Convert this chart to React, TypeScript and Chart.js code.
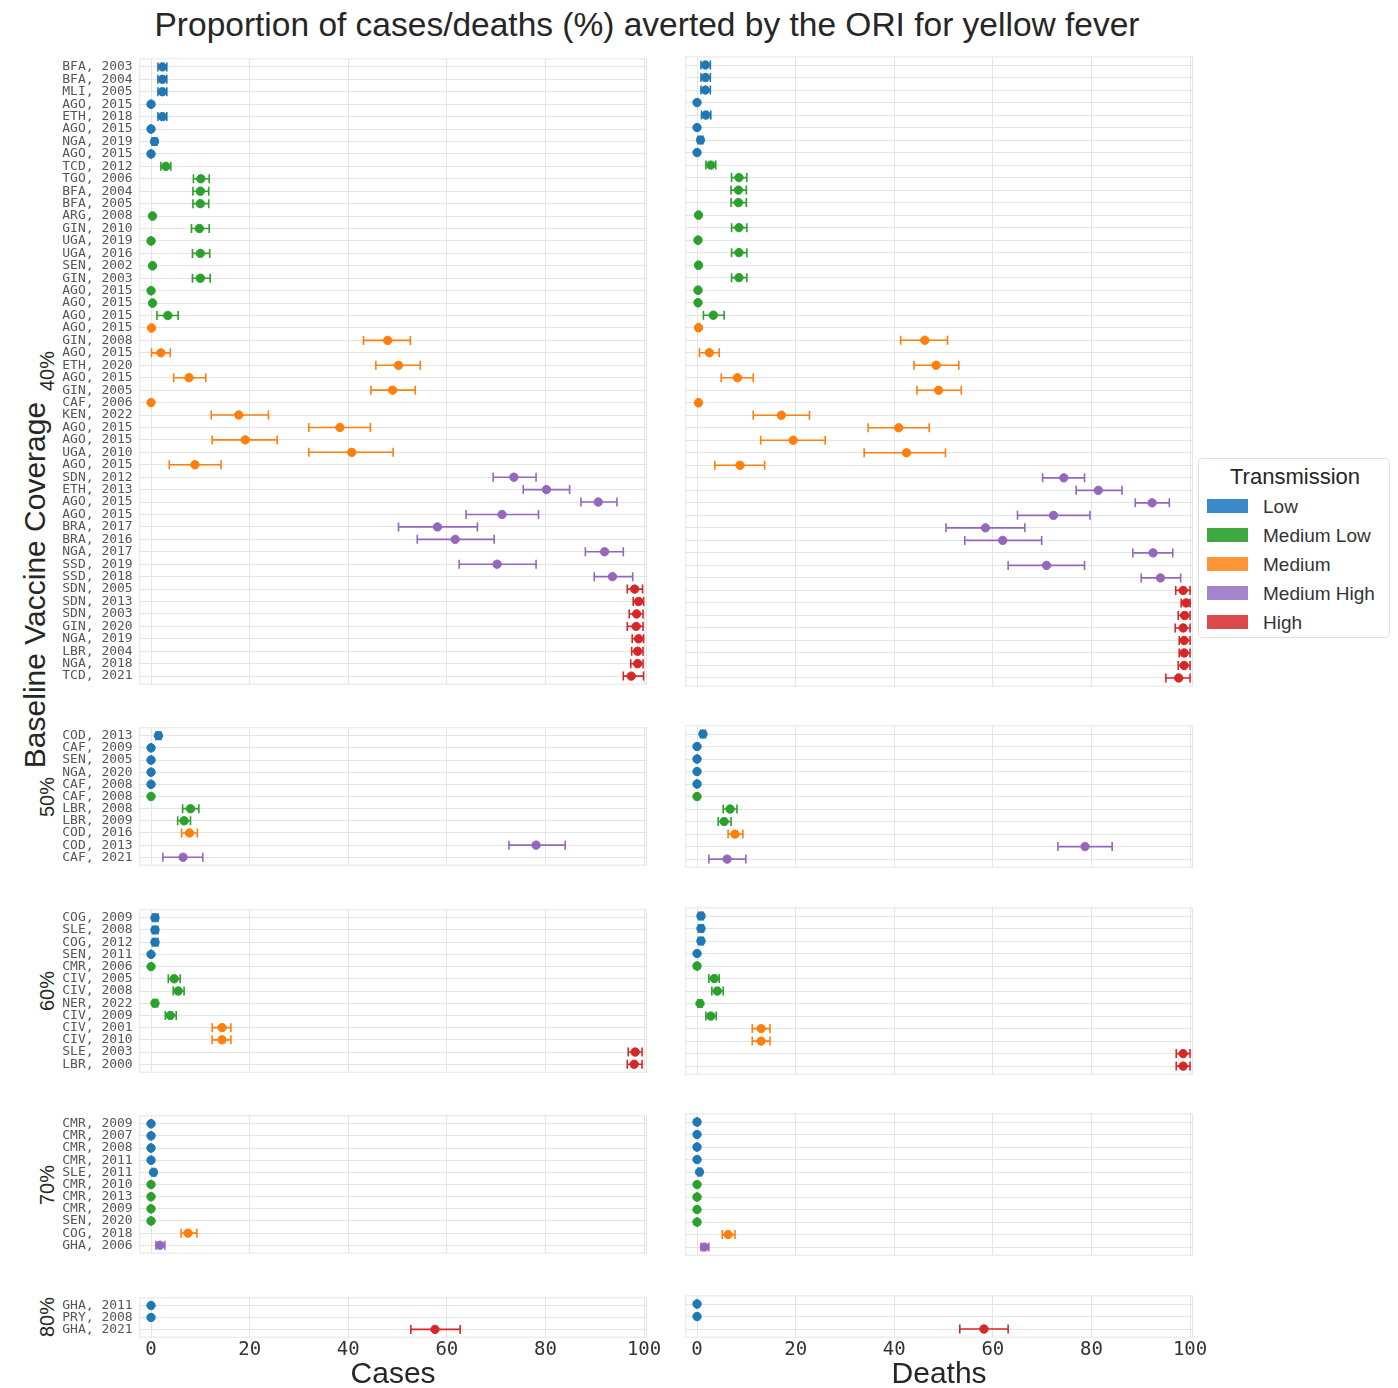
import React, { useEffect, useRef } from "react";
import { Chart, registerables } from "chart.js";
Chart.register(...registerables);

// ---------- categories ----------
const transmissionNames = ["Low", "Medium Low", "Medium", "Medium High", "High"];
const transmissionColors = ["#1f77b4", "#2ca02c", "#ff7f0e", "#9467bd", "#d62728"];
const legendColors = ["#3a89c9", "#3fa93f", "#ff9537", "#a484cc", "#de4a4b"];
const coverageLabels = ["40%", "50%", "60%", "70%", "80%"];
const xTickValues = [0, 20, 40, 60, 80, 100];

// ---------- 40% ----------
const labels40 = ["BFA, 2003", "BFA, 2004", "MLI, 2005", "AGO, 2015", "ETH, 2018", "AGO, 2015", "NGA, 2019", "AGO, 2015", "TCD, 2012", "TGO, 2006", "BFA, 2004", "BFA, 2005", "ARG, 2008", "GIN, 2010", "UGA, 2019", "UGA, 2016", "SEN, 2002", "GIN, 2003", "AGO, 2015", "AGO, 2015", "AGO, 2015", "AGO, 2015", "GIN, 2008", "AGO, 2015", "ETH, 2020", "AGO, 2015", "GIN, 2005", "CAF, 2006", "KEN, 2022", "AGO, 2015", "AGO, 2015", "UGA, 2010", "AGO, 2015", "SDN, 2012", "ETH, 2013", "AGO, 2015", "AGO, 2015", "BRA, 2017", "BRA, 2016", "NGA, 2017", "SSD, 2019", "SSD, 2018", "SDN, 2005", "SDN, 2013", "SDN, 2003", "GIN, 2020", "NGA, 2019", "LBR, 2004", "NGA, 2018", "TCD, 2021"];
const trans40 = [0, 0, 0, 0, 0, 0, 0, 0, 1, 1, 1, 1, 1, 1, 1, 1, 1, 1, 1, 1, 1, 2, 2, 2, 2, 2, 2, 2, 2, 2, 2, 2, 2, 3, 3, 3, 3, 3, 3, 3, 3, 3, 4, 4, 4, 4, 4, 4, 4, 4];
const cases40 = [2.3, 2.3, 2.3, 0, 2.3, 0, 0.7, 0, 3.0, 10.1, 10.0, 10.0, 0.3, 9.8, 0, 10.0, 0.3, 10.0, 0, 0.3, 3.4, 0.1, 48.0, 2.0, 50.2, 7.7, 49.0, 0, 17.8, 38.3, 19.1, 40.7, 8.9, 73.6, 80.2, 90.7, 71.2, 58.1, 61.7, 92.0, 70.2, 93.6, 98.1, 98.9, 98.5, 98.4, 98.9, 98.7, 98.7, 97.4];
const casesLo40 = [1.4, 1.4, 1.4, 0, 1.4, 0, 0.2, 0, 2.0, 8.6, 8.5, 8.5, 0.1, 8.2, 0, 8.4, 0.1, 8.4, 0, 0.1, 1.2, 0, 43.1, 0.1, 45.6, 4.6, 44.6, 0, 12.2, 32.0, 12.4, 32.0, 3.7, 69.4, 75.5, 87.2, 63.9, 50.2, 54.0, 88.1, 62.5, 89.9, 96.6, 97.8, 97.0, 96.6, 97.6, 97.5, 97.3, 95.8];
const casesHi40 = [3.2, 3.2, 3.2, 0, 3.2, 0, 1.2, 0, 4.0, 11.8, 11.7, 11.7, 0.5, 11.8, 0, 11.9, 0.5, 12.0, 0, 0.5, 5.5, 0.2, 52.6, 3.9, 54.6, 11.1, 53.6, 0, 23.8, 44.5, 25.6, 49.1, 14.2, 78.1, 84.9, 94.5, 78.6, 66.2, 69.6, 95.8, 78.1, 97.7, 99.7, 99.9, 99.8, 99.8, 99.9, 99.8, 99.8, 99.9];
const deaths40 = [1.7, 1.7, 1.7, 0, 1.8, 0, 0.7, 0, 2.8, 8.5, 8.4, 8.4, 0.3, 8.5, 0.2, 8.5, 0.3, 8.5, 0.2, 0.2, 3.3, 0.3, 46.2, 2.5, 48.5, 8.2, 49.0, 0.3, 17.1, 40.9, 19.5, 42.5, 8.7, 74.4, 81.4, 92.3, 72.3, 58.5, 62.0, 92.5, 70.9, 94.0, 98.6, 99.2, 98.9, 98.6, 98.8, 98.8, 98.8, 97.7];
const deathsLo40 = [0.8, 0.8, 0.8, 0, 0.9, 0, 0.2, 0, 1.8, 7.0, 6.9, 6.9, 0.1, 7.0, 0.1, 7.0, 0.1, 7.0, 0.1, 0.1, 1.3, 0.1, 41.3, 0.5, 44.0, 4.9, 44.6, 0.1, 11.4, 34.7, 12.9, 33.9, 3.6, 70.1, 76.9, 88.9, 65.0, 50.5, 54.3, 88.4, 63.1, 90.1, 97.1, 98.2, 97.6, 97.0, 97.8, 97.8, 97.6, 95.1];
const deathsHi40 = [2.7, 2.7, 2.7, 0, 2.8, 0, 1.2, 0, 3.8, 10.1, 10.0, 10.0, 0.5, 10.1, 0.3, 10.1, 0.5, 10.1, 0.3, 0.3, 5.5, 0.5, 50.8, 4.5, 53.1, 11.4, 53.6, 0.5, 22.8, 47.1, 26.0, 50.4, 13.7, 78.6, 86.2, 95.8, 79.7, 66.5, 69.9, 96.5, 78.6, 98.1, 100, 100, 100, 100, 100, 100, 100, 100];

// ---------- 50% ----------
const labels50 = ["COD, 2013", "CAF, 2009", "SEN, 2005", "NGA, 2020", "CAF, 2008", "CAF, 2008", "LBR, 2008", "LBR, 2009", "COD, 2016", "COD, 2013", "CAF, 2021"];
const trans50 = [0, 0, 0, 0, 0, 1, 1, 1, 2, 3, 3];
const cases50 = [1.5, 0, 0, 0, 0, 0, 8.0, 6.7, 7.8, 78.1, 6.5];
const casesLo50 = [1.0, 0, 0, 0, 0, 0, 6.4, 5.4, 6.2, 72.6, 2.4];
const casesHi50 = [2.0, 0, 0, 0, 0, 0, 9.7, 8.0, 9.4, 84.0, 10.5];
const deaths50 = [1.2, 0, 0, 0, 0, 0, 6.7, 5.5, 7.7, 78.7, 6.1];
const deathsLo50 = [0.7, 0, 0, 0, 0, 0, 5.3, 4.3, 6.3, 73.2, 2.4];
const deathsHi50 = [1.7, 0, 0, 0, 0, 0, 8.1, 6.9, 9.3, 84.2, 9.9];

// ---------- 60% ----------
const labels60 = ["COG, 2009", "SLE, 2008", "COG, 2012", "SEN, 2011", "CMR, 2006", "CIV, 2005", "CIV, 2008", "NER, 2022", "CIV, 2009", "CIV, 2001", "CIV, 2010", "SLE, 2003", "LBR, 2000"];
const trans60 = [0, 0, 0, 0, 1, 1, 1, 1, 1, 2, 2, 4, 4];
const cases60 = [0.8, 0.8, 0.8, 0, 0, 4.7, 5.5, 0.8, 3.9, 14.4, 14.4, 98.2, 98.0];
const casesLo60 = [0.3, 0.3, 0.3, 0, 0, 3.5, 4.5, 0.4, 2.9, 12.4, 12.4, 96.8, 96.6];
const casesHi60 = [1.4, 1.4, 1.4, 0, 0, 5.9, 6.7, 1.3, 5.1, 16.2, 16.2, 99.6, 99.6];
const deaths60 = [0.8, 0.8, 0.8, 0, 0, 3.5, 4.1, 0.6, 2.8, 13.0, 13.0, 98.6, 98.6];
const deathsLo60 = [0.3, 0.3, 0.3, 0, 0, 2.4, 3.0, 0.2, 1.8, 11.2, 11.2, 97.2, 97.2];
const deathsHi60 = [1.3, 1.3, 1.3, 0, 0, 4.5, 5.3, 1.0, 3.9, 14.8, 14.8, 100, 100];

// ---------- 70% ----------
const labels70 = ["CMR, 2009", "CMR, 2007", "CMR, 2008", "CMR, 2011", "SLE, 2011", "CMR, 2010", "CMR, 2013", "CMR, 2009", "SEN, 2020", "COG, 2018", "GHA, 2006"];
const trans70 = [0, 0, 0, 0, 0, 1, 1, 1, 1, 2, 3];
const cases70 = [0, 0, 0, 0, 0.5, 0, 0, 0, 0, 7.5, 1.8];
const casesLo70 = [0, 0, 0, 0, 0.2, 0, 0, 0, 0, 6.1, 1.0];
const casesHi70 = [0, 0, 0, 0, 0.9, 0, 0, 0, 0, 9.3, 2.8];
const deaths70 = [0, 0, 0, 0, 0.5, 0, 0, 0, 0, 6.3, 1.5];
const deathsLo70 = [0, 0, 0, 0, 0.2, 0, 0, 0, 0, 5.1, 0.8];
const deathsHi70 = [0, 0, 0, 0, 0.9, 0, 0, 0, 0, 7.7, 2.4];

// ---------- 80% ----------
const labels80 = ["GHA, 2011", "PRY, 2008", "GHA, 2021"];
const trans80 = [0, 0, 4];
const cases80 = [0, 0, 57.6];
const casesLo80 = [0, 0, 52.7];
const casesHi80 = [0, 0, 62.7];
const deaths80 = [0, 0, 58.2];
const deathsLo80 = [0, 0, 53.3];
const deathsHi80 = [0, 0, 63.1];

const groups = [
  { rows: labels40, trans: trans40, cases: [cases40, casesLo40, casesHi40], deaths: [deaths40, deathsLo40, deathsHi40] },
  { rows: labels50, trans: trans50, cases: [cases50, casesLo50, casesHi50], deaths: [deaths50, deathsLo50, deathsHi50] },
  { rows: labels60, trans: trans60, cases: [cases60, casesLo60, casesHi60], deaths: [deaths60, deathsLo60, deathsHi60] },
  { rows: labels70, trans: trans70, cases: [cases70, casesLo70, casesHi70], deaths: [deaths70, deathsLo70, deathsHi70] },
  { rows: labels80, trans: trans80, cases: [cases80, casesLo80, casesHi80], deaths: [deaths80, deathsLo80, deathsHi80] },
];

// ---------- layout ----------
const X_MIN = -2.3;
const X_MAX = 100.5;
const PX_PER_UNIT = 4.93;
const PLOT_W = (X_MAX - X_MIN) * PX_PER_UNIT;
const PLOT_LEFT = [139.7, 685.7];
const ROW_H = 12.51;
const ROW_PAD = 0.65;
const FIRST_ROW_Y = [65, 734, 916, 1122, 1304];
const GRID = "#e4e4e4";

const framePlugin = {
  id: "panelFrame",
  beforeDatasetsDraw(chart: any) {
    const a = chart.chartArea;
    const ctx = chart.ctx;
    ctx.save();
    ctx.strokeStyle = GRID;
    ctx.lineWidth = 1;
    ctx.strokeRect(a.left, a.top, a.right - a.left, a.bottom - a.top);
    ctx.restore();
  },
};

function buildDatasets(trans: number[], v: number[], lo: number[], hi: number[]) {
  const markers: any[] = [];
  const bars: any[] = [];
  for (let k = 0; k < transmissionNames.length; k++) {
    const pts: any[] = [];
    const err: any[] = [];
    trans.forEach((t, i) => {
      if (t !== k) return;
      pts.push({ x: v[i], y: i });
      err.push({ x: lo[i], y: i }, { x: hi[i], y: i }, { x: null, y: null });
    });
    if (!pts.length) continue;
    markers.push({
      label: transmissionNames[k],
      data: pts,
      showLine: false,
      pointStyle: "circle",
      pointRadius: 4.2,
      pointBackgroundColor: transmissionColors[k],
      pointBorderColor: transmissionColors[k],
      pointBorderWidth: 1,
    });
    bars.push({
      label: transmissionNames[k] + " CI",
      data: err,
      showLine: true,
      spanGaps: false,
      borderColor: transmissionColors[k],
      borderWidth: 1.6,
      pointStyle: "line",
      pointRotation: 90,
      pointRadius: 4.5,
      pointBorderColor: transmissionColors[k],
      pointBackgroundColor: transmissionColors[k],
      pointBorderWidth: 1.6,
    });
  }
  return [...markers, ...bars];
}

type PanelProps = {
  rows: string[];
  trans: number[];
  series: number[][];
  col: number;
  gi: number;
  showX: boolean;
};

function Panel({ rows, trans, series, col, gi, showX }: PanelProps) {
  const ref = useRef<HTMLCanvasElement>(null);
  const n = rows.length;
  const plotH = (n - 1 + 2 * ROW_PAD) * ROW_H;
  const plotTop = FIRST_ROW_Y[gi] - ROW_PAD * ROW_H;
  const plotLeft = PLOT_LEFT[col];
  const showY = col === 0;
  const yw = showY ? 90 : 0;
  const xh = showX ? 30 : 0;
  const cLeft = Math.floor(plotLeft - yw - 24);
  const cTop = Math.floor(plotTop - 12);
  const cW = Math.ceil(plotLeft + PLOT_W + 24) - cLeft;
  const cH = Math.ceil(plotTop + plotH + xh + 12) - cTop;
  const padL = plotLeft - yw - cLeft;
  const padT = plotTop - cTop;
  const padR = cLeft + cW - (plotLeft + PLOT_W);
  const padB = cTop + cH - (plotTop + plotH + xh);

  useEffect(() => {
    const chart = new Chart(ref.current as HTMLCanvasElement, {
      type: "line",
      data: { datasets: buildDatasets(trans, series[0], series[1], series[2]) as any },
      options: {
        responsive: false,
        animation: false,
        devicePixelRatio: 1,
        events: [],
        layout: { autoPadding: false, padding: { left: padL, right: padR, top: padT, bottom: padB } },
        plugins: { legend: { display: false }, tooltip: { enabled: false }, title: { display: false } },
        scales: {
          x: {
            type: "linear",
            min: X_MIN,
            max: X_MAX,
            afterBuildTicks: (s: any) => {
              s.ticks = xTickValues.map((value) => ({ value }));
            },
            afterFit: (s: any) => {
              s.height = xh;
            },
            grid: { color: GRID, lineWidth: 1, drawTicks: false },
            border: { display: false },
            ticks: {
              display: showX,
              padding: 2,
              color: "#333",
              font: { family: '"DejaVu Sans Mono", monospace', size: 19 },
              maxRotation: 0,
              autoSkip: false,
            },
          },
          y: {
            type: "linear",
            reverse: true,
            min: -ROW_PAD,
            max: n - 1 + ROW_PAD,
            afterBuildTicks: (s: any) => {
              s.ticks = rows.map((_, i) => ({ value: i }));
            },
            afterFit: (s: any) => {
              s.width = yw;
            },
            grid: { color: GRID, lineWidth: 1, drawTicks: false },
            border: { display: false },
            ticks: {
              display: showY,
              autoSkip: false,
              padding: 7,
              color: "#555",
              font: { family: '"DejaVu Sans Mono", monospace', size: 13 },
              callback: (value: any) => rows[Math.round(Number(value))] ?? "",
            },
          },
        },
      },
      plugins: [framePlugin],
    });
    return () => chart.destroy();
  }, []);

  return (
    <canvas
      ref={ref}
      width={cW}
      height={cH}
      style={{ position: "absolute", left: cLeft, top: cTop, width: cW, height: cH }}
    />
  );
}

function Label({ x, y, text, size, rotate, color = "#262626" }: any) {
  return (
    <div
      style={{
        position: "absolute",
        left: x,
        top: y,
        transform: `translate(-50%, -50%)${rotate ? " rotate(-90deg)" : ""}`,
        whiteSpace: "nowrap",
        fontSize: size,
        lineHeight: 1,
        color,
      }}
    >
      {text}
    </div>
  );
}

export default function App() {
  const centers = groups.map((g, gi) => FIRST_ROW_Y[gi] + ((g.rows.length - 1) * ROW_H) / 2);
  return (
    <div
      style={{
        position: "absolute",
        left: 0,
        top: 0,
        width: 1398,
        height: 1388,
        background: "#fff",
        overflow: "hidden",
        fontFamily: '"Liberation Sans", Arial, sans-serif',
      }}
    >
      <Label x={647} y={25} size={33.5} text="Proportion of cases/deaths (%) averted by the ORI for yellow fever" />
      <Label x={35} y={585} size={30} rotate text="Baseline Vaccine Coverage" />
      {coverageLabels.map((c, gi) => (
        <Label key={c} x={47} y={centers[gi]} size={20} rotate text={c} />
      ))}
      {groups.map((g, gi) =>
        [0, 1].map((col) => (
          <Panel
            key={gi + "-" + col}
            rows={g.rows}
            trans={g.trans}
            series={col === 0 ? g.cases : g.deaths}
            col={col}
            gi={gi}
            showX={gi === groups.length - 1}
          />
        ))
      )}
      <Label x={PLOT_LEFT[0] + PLOT_W / 2} y={1373} size={30} text="Cases" />
      <Label x={PLOT_LEFT[1] + PLOT_W / 2} y={1373} size={30} text="Deaths" />
      <div
        style={{
          position: "absolute",
          left: 1198,
          top: 458,
          width: 192,
          height: 180,
          boxSizing: "border-box",
          border: "1px solid #e2e2e2",
          borderRadius: 4,
          background: "#fff",
        }}
      >
        <Label x={96} y={18} size={22} text="Transmission" color="#262626" />
        {transmissionNames.map((name, i) => (
          <React.Fragment key={name}>
            <div
              style={{
                position: "absolute",
                left: 8,
                top: 40 + 29 * i,
                width: 41,
                height: 14,
                background: legendColors[i],
              }}
            />
            <div
              style={{
                position: "absolute",
                left: 64,
                top: 47 + 29 * i,
                transform: "translateY(-50%)",
                fontSize: 19,
                lineHeight: 1,
                color: "#333",
                whiteSpace: "nowrap",
              }}
            >
              {name}
            </div>
          </React.Fragment>
        ))}
      </div>
    </div>
  );
}
